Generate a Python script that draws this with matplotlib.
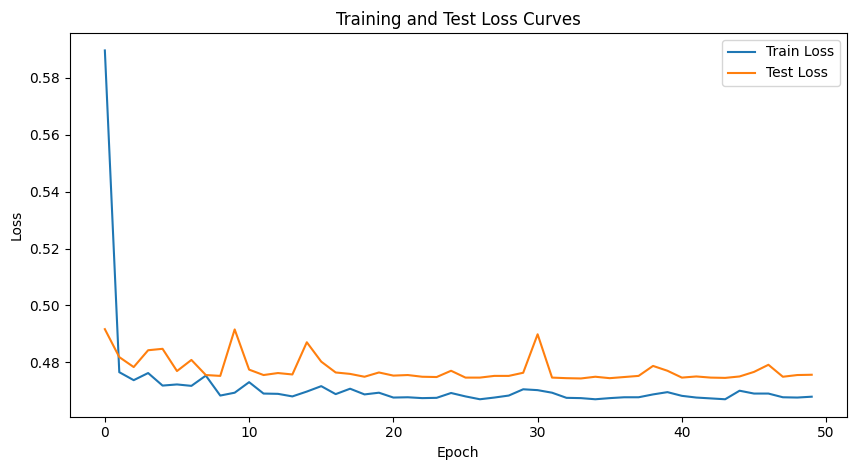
import matplotlib
matplotlib.use("Agg")
import matplotlib.pyplot as plt

epochs = list(range(50))

train_loss = [
    0.5895, 0.4766, 0.4738, 0.4763, 0.4719, 0.4723, 0.4718, 0.4754, 0.4684, 0.4694,
    0.4731, 0.4691, 0.4690, 0.4681, 0.4698, 0.4717, 0.4689, 0.4708, 0.4688, 0.4694,
    0.4677, 0.4678, 0.4675, 0.4676, 0.4693, 0.4681, 0.4671, 0.4677, 0.4684, 0.4706,
    0.4703, 0.4694, 0.4676, 0.4675, 0.4671, 0.4675, 0.4678, 0.4678, 0.4688, 0.4696,
    0.4683, 0.4677, 0.4674, 0.4671, 0.4701, 0.4691, 0.4691, 0.4678, 0.4677, 0.4680,
]

test_loss = [
    0.4917, 0.4819, 0.4784, 0.4843, 0.4848, 0.4770, 0.4809, 0.4756, 0.4753, 0.4916,
    0.4775, 0.4756, 0.4763, 0.4758, 0.4871, 0.4803, 0.4765, 0.4760, 0.4750, 0.4765,
    0.4754, 0.4756, 0.4750, 0.4749, 0.4771, 0.4747, 0.4747, 0.4753, 0.4753, 0.4764,
    0.4899, 0.4747, 0.4745, 0.4744, 0.4750, 0.4745, 0.4749, 0.4753, 0.4788, 0.4771,
    0.4747, 0.4751, 0.4747, 0.4746, 0.4751, 0.4767, 0.4792, 0.4750, 0.4756, 0.4757,
]

fig = plt.figure(figsize=(8.55, 4.7), dpi=100)
ax = fig.add_axes([0.0813, 0.1134, 0.9094, 0.8164])
ax.plot(epochs, train_loss, label="Train Loss")
ax.plot(epochs, test_loss, label="Test Loss")
ax.set_xlabel("Epoch")
ax.set_ylabel("Loss")
ax.set_title("Training and Test Loss Curves")
ax.legend()
fig.savefig("out.png")
